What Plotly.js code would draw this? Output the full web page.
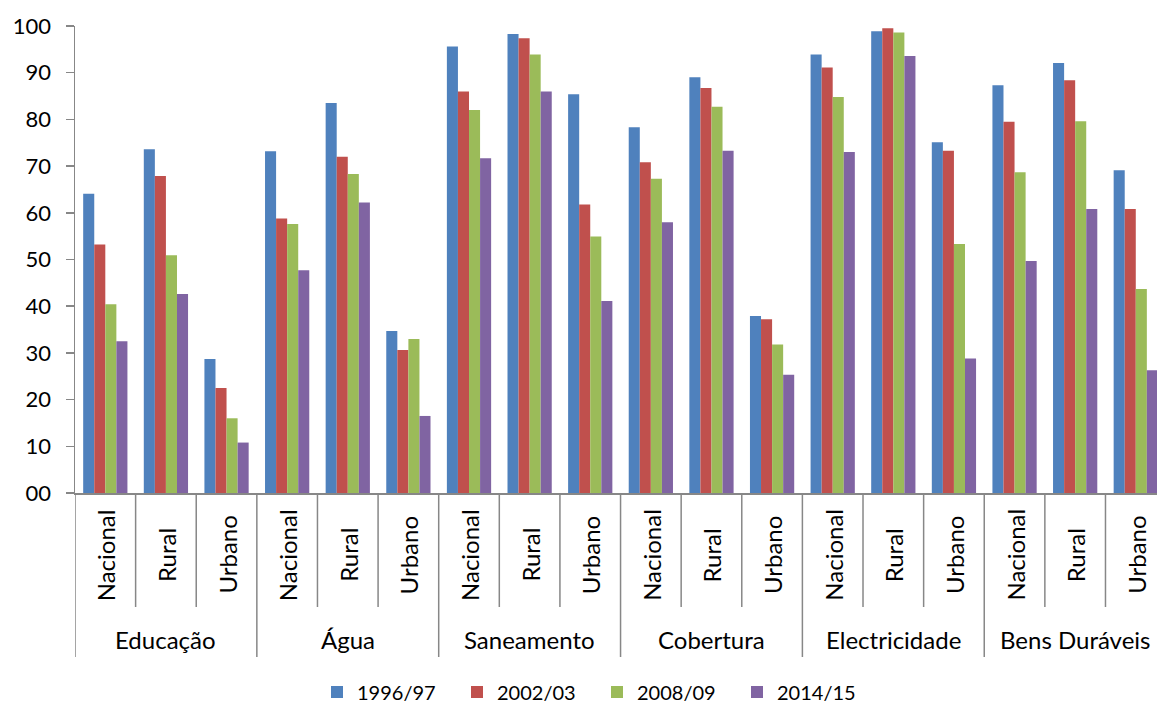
<!DOCTYPE html>
<html>
<head>
<meta charset="utf-8">
<script src="https://cdn.plot.ly/plotly-3.0.1.min.js"></script>
<style>html,body{margin:0;padding:0;overflow:hidden;background:#fff}</style>
</head>
<body>
<div id="chart" style="width:1157px;height:706px"></div>
<script>
// ---- data ----
const groups = ['Educação', 'Água', 'Saneamento', 'Cobertura', 'Electricidade', 'Bens Duráveis'];
const areas = ['Nacional', 'Rural', 'Urbano'];
const seriesNames = ['1996/97', '2002/03', '2008/09', '2014/15'];
const values1996 = [64.1, 73.6, 28.7, 73.2, 83.5, 34.7, 95.6, 98.3, 85.4, 78.3, 89.0, 37.9, 93.9, 98.9, 75.1, 87.3, 92.1, 69.1];
const values2002 = [53.2, 67.9, 22.5, 58.8, 72.0, 30.6, 86.0, 97.4, 61.8, 70.8, 86.7, 37.2, 91.1, 99.5, 73.3, 79.5, 88.4, 60.8];
const values2008 = [40.4, 50.9, 16.0, 57.6, 68.3, 33.0, 82.0, 93.9, 54.9, 67.3, 82.7, 31.8, 84.8, 98.6, 53.3, 68.7, 79.6, 43.7];
const values2014 = [32.5, 42.6, 10.8, 47.7, 62.2, 16.5, 71.7, 86.0, 41.1, 58.0, 73.3, 25.3, 73.0, 93.6, 28.8, 49.7, 60.8, 26.3];
const yTickValues = [0, 10, 20, 30, 40, 50, 60, 70, 80, 90, 100];

// ---- styling ----
const seriesColors = ['#4F81BD', '#C0504D', '#9BBB59', '#8064A2'];
const FONT = 'Lato, "Open Sans", sans-serif';
const axisColor = '#878787';
const W = 1157, H = 706;
const margin = {l: 75, r: 0, t: 26, b: 213, pad: 0, autoexpand: false};
const plotH = H - margin.t - margin.b;
const plotW = W - margin.l - margin.r;
const paperY = py => (H - margin.b - py) / plotH;
const paperX = px => (px - margin.l) / plotW;

const keys = [];
groups.forEach(g => areas.forEach(a => keys.push(g + ' · ' + a)));
const allValues = [values1996, values2002, values2008, values2014];

const traces = seriesNames.map((name, s) => ({
  type: 'bar',
  name: name,
  x: keys,
  y: allValues[s],
  marker: {color: seriesColors[s], line: {width: 0}},
  hoverinfo: 'name+y'
}));

const annotations = [];
keys.forEach((k, i) => {
  annotations.push({
    xref: 'x', yref: 'paper', x: i, y: paperY(555),
    text: areas[i % areas.length], textangle: -90, showarrow: false,
    xanchor: 'center', yanchor: 'middle', borderwidth: 0,
    font: {family: FONT, size: 24, color: '#000'}
  });
});
groups.forEach((g, k) => {
  annotations.push({
    xref: 'x', yref: 'paper', x: k * areas.length + (areas.length - 1) / 2, y: paperY(639),
    text: g, showarrow: false, xanchor: 'center', yanchor: 'middle', borderwidth: 0,
    font: {family: FONT, size: 24, color: '#000'}
  });
});

// dividers below the axis: long ones between groups, short ones between areas
const shapes = [];
for (let b = 0; b <= keys.length; b++) {
  const isGroupEdge = b % areas.length === 0;
  shapes.push({
    type: 'line', xref: 'x', yref: 'paper',
    x0: b - 0.5, x1: b - 0.5,
    y0: 0, y1: paperY(isGroupEdge ? 657 : 607),
    line: {color: axisColor, width: 1.5}
  });
}

const layout = {
  width: W, height: H,
  margin: margin,
  paper_bgcolor: '#fff', plot_bgcolor: '#fff',
  font: {family: FONT, size: 22, color: '#000'},
  barmode: 'group',
  bargap: 0.27, bargroupgap: 0,
  showlegend: true,
  legend: {
    orientation: 'h', x: paperX(317), xanchor: 'left',
    y: paperY(692), yanchor: 'middle',
    font: {family: FONT, size: 20, color: '#000'},
    entrywidth: 95, entrywidthmode: 'pixels',
    bgcolor: 'rgba(0,0,0,0)', borderwidth: 0
  },
  xaxis: {
    type: 'category', range: [-0.5, 17.35],
    showline: true, linecolor: axisColor, linewidth: 1.5,
    ticks: '', showticklabels: false, showgrid: false, zeroline: false, fixedrange: true
  },
  yaxis: {
    range: [0, 100], tickvals: yTickValues, tickformat: '02d',
    showline: true, linecolor: axisColor, linewidth: 1.5,
    ticks: 'outside', ticklen: 8, tickwidth: 1.5, tickcolor: axisColor,
    ticklabelstandoff: 10,
    tickfont: {family: FONT, size: 22, color: '#000'},
    showgrid: false, zeroline: false, fixedrange: true
  },
  annotations: annotations,
  shapes: shapes
};

Plotly.newPlot('chart', traces, layout, {displayModeBar: false, staticPlot: true});
</script>
</body>
</html>
